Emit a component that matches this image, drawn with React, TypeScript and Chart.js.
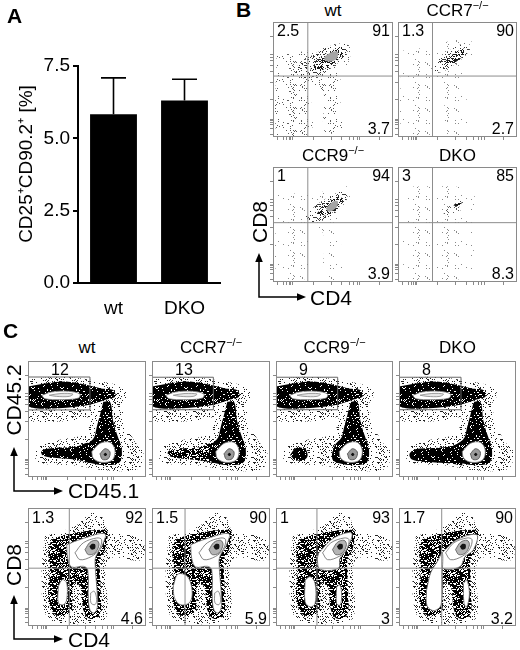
import React, { useEffect, useRef } from "react";
import { Chart, registerables } from "chart.js";
Chart.register(...registerables);

const FONT = '"Liberation Sans", Arial, Helvetica, sans-serif';

// ---------------- Panel A data ----------------
const aCategories = ["wt", "DKO"];
const aMeans = [5.83, 6.31];
const aErrUp = [1.26, 0.73];
const aYTicks = [0, 2.5, 5, 7.5];
const aYTitle = "CD25\u207ACD90.2\u207A [%]";

// ---------------- Panel B data (CD8 vs CD4, values in % of axis) ----------------
const bTitleMain = ["wt", "CCR7", "CCR9", "DKO"];
const bTitleSup = ["", "\u2212/\u2212", "\u2212/\u2212", ""];
const bNumTL = ["2.5", "1.3", "1", "3"];
const bNumTR = ["91", "90", "94", "85"];
const bNumBR = ["3.7", "2.7", "3.9", "8.3"];
const bQuadX = [29, 29, 29, 29];
const bQuadY = [53, 53, 51.6, 51.6];

const bWtSparse = [[3, 71], [22, 74], [39, 77], [53, 81], [63, 80], [64, 68], [57, 55], [56, 34], [57, 6], [43, 5], [42, 39], [32, 44], [31, 3], [3, 2]];
const bWtMid = [[17, 58], [25, 66], [36, 73], [50, 80], [61, 81], [62, 74], [56, 66], [46, 58], [36, 53], [25, 51]];
const bWtDense = [[31, 59], [39, 68], [49, 75], [57, 78], [59, 74], [53, 66], [45, 60], [36, 57]];
const bWtCore = [[43, 70], [49, 74], [54, 74], [53, 68], [47.5, 65.5], [43, 67]];

const bCcr7Sparse = [[3, 75], [24, 78], [46, 84], [61, 84], [63, 72], [56, 61], [58, 3], [41, 3], [38, 46], [30, 49], [29, 3], [3, 3]];
const bCcr7Mid = [[27, 58], [35, 68], [46, 77], [58, 82], [61, 78], [56, 70], [46, 62], [35, 56]];
const bCcr7Dense = [[38, 64], [46, 72], [55, 77], [57, 74], [51, 67], [42, 62]];

const bCcr9Sparse = [[3, 77], [25, 77], [39, 78], [62, 83], [64, 71], [56, 56], [57, 4], [43, 4], [42, 42], [31, 45], [29, 4], [3, 4]];
const bCcr9Mid = [[26, 56], [36, 67], [47, 74], [60, 80], [62, 74], [56, 64], [44, 55], [33, 52]];
const bCcr9Dense = [[36, 59], [44, 68], [54, 74], [58, 72], [54, 64], [44, 58]];
const bCcr9Core = [[44, 64], [50, 70], [54, 70], [53, 65], [47, 61]];

const bDkoSparse = [[7, 83], [46, 83], [63, 80], [63, 59], [58, 4], [7, 4]];
const bDkoMid = [[38, 59], [45, 68], [53, 72], [56, 68], [51, 61], [42, 58]];
const bDkoDense = [[46.5, 66.7], [50.7, 70.1], [53.5, 68.9], [50.7, 65.2]];

// ---------------- Panel C data ----------------
const cTitleMain = ["wt", "CCR7", "CCR9", "DKO"];
const cTitleSup = ["", "\u2212/\u2212", "\u2212/\u2212", ""];
const cGateNum = ["12", "13", "9", "8"];
const cGateX = [52.5, 52, 52.7, 53];
const cGateTop = [86.2, 86, 86, 86];
const cGateBottom = [57.8, 58, 58, 58];
const cNumTL = ["1.3", "1.5", "1", "1.7"];
const cNumTR = ["92", "90", "93", "90"];
const cNumBR = ["4.6", "5.9", "3", "3.2"];
const cQuadX = [35, 28, 35, 36.5];
const cQuadY = [49, 49, 49, 49];

// top row: CD45.2 vs CD45.1
const cTopHalo = [[0, 84], [26, 86.5], [54, 83.6], [82, 76.4], [82, 66.4], [68, 59], [48, 50.6], [20, 47.7], [0, 50.6]];
const cTopBand = [[0, 78], [14, 80.7], [34, 82.2], [50, 79.3], [62, 76.4], [72, 75], [74, 69.3], [65, 66.4], [51, 62], [26, 59.2], [6, 59.2], [0, 62]];
const cTopBandCore = [[11.6, 70.4], [20, 73.3], [34, 73.9], [44, 71.6], [42.7, 68], [28.5, 66.7], [14.4, 67.5]];
const cTopBandInner = [[18, 70.5], [28, 72], [38, 71.5], [35, 69.5], [24, 69.5]];
const cTopLowHalo = [[55.6, 70.4], [76.6, 73.3], [82, 47.4], [90.7, 30.2], [97.7, 21.6], [93.5, 7.2], [68, 5.7], [39.8, 10], [8.8, 13], [6, 24.4], [25.7, 31.6], [48.3, 37.4], [54, 53.2]];
const cTopLowMain = [[63.8, 64.9], [69.5, 64.9], [72.3, 47.7], [76.6, 33.3], [79.4, 24.7], [78, 13.2], [68, 10.3], [54, 11.8], [48, 16], [50, 27], [56, 34], [58, 42], [61, 53.4]];
const cTopLowCore = [[54, 21.8], [61, 29], [69.5, 29.9], [73.7, 23.3], [71.5, 14.7], [62.4, 12.6], [55.4, 16]];
const cTopLowInner = [[61, 20], [65.3, 24.4], [69.5, 21.6], [68, 15.8], [63, 15.2]];
const cTopLowCenter = [[64, 19.5], [65.5, 21], [67, 19.5], [65.5, 18]];
const cWtTopTail = [[52, 12], [40, 15], [22, 16.5], [12, 19], [12, 23], [22, 25], [40, 26], [52, 29]];
const cCcr7TopTail = [[52, 12], [40, 14.5], [24, 16], [14, 18.5], [14, 22.5], [24, 24.5], [40, 25.5], [52, 29]];
const cCcr9TopBlob = [[12, 19], [16, 15], [23, 14], [27, 18], [25, 24], [17, 25]];
const cDkoTopTail = [[54, 10], [40, 12], [22, 13], [11, 15], [9, 20], [14, 24], [30, 25], [46, 27], [56, 31]];

// bottom row: CD8 vs CD4
const cBotHalo = [[14.4, 76], [39.8, 84.7], [54, 95.8], [62.4, 93], [68, 81.6], [96.3, 73.2], [96.3, 56.2], [68, 56.2], [66.7, 8.2], [54, 2.5], [25.7, 2.5], [14.4, 11], [11.6, 47.5]];
const cBotDense = [[20, 73.2], [31.4, 77.4], [48.3, 80.2], [63.8, 81.6], [67.5, 79.4], [65.3, 64.7], [61, 56.2], [61.9, 13.8], [58.2, 6.8], [51.1, 6.8], [46.9, 13.8], [44.1, 33.6], [38.4, 36.4], [37, 13.8], [29.9, 8.2], [21.5, 11], [17.2, 25.1], [18.6, 47.7], [17.2, 64.7]];
const cBotWhiteJoined = [[32.8, 68.9], [45.2, 73.7], [65, 78.2], [62.9, 68.1], [58.2, 60.5], [56.8, 54.8], [59, 22.3], [58.2, 13.8], [55.4, 11], [52.5, 13.8], [51.1, 22.3], [50.6, 47.7], [46.9, 50.6], [37, 50], [33.6, 57.6]];
const cBotRing1 = [[39.8, 62], [46.9, 70.5], [58.2, 74.6], [62.4, 73.2], [60.2, 64.7], [53.9, 59], [44.1, 56.2]];
const cBotRing2 = [[48.3, 64.7], [52.5, 70.9], [58.2, 72.6], [60.2, 68.9], [56.8, 61.9], [51.1, 60.5]];
const cBotCore = [[52, 67.3], [54.3, 69.6], [56.8, 69.2], [56.8, 65.7], [53.8, 64.8]];
const cWtBotDn = [[25.7, 33.6], [29.1, 39.3], [32.8, 36.4], [32.8, 22.3], [30.2, 18.1], [25.7, 19.5]];
const cWtBotCd4 = [[53.1, 28], [56.2, 29.4], [58.2, 22.3], [56.8, 18.1], [53.4, 19.5]];
const cCcr7BotDn = [[18, 34], [22, 44], [30, 42], [34, 30], [32, 20], [24, 18], [19, 24]];
const cCcr9BotWhite = [[36.3, 61.6], [49, 74.4], [64.6, 78.7], [60.3, 64.5], [54.7, 57.4], [53.3, 48.9], [37.7, 48], [35.4, 56]];
const cCcr9BotDn = [[24.9, 38.9], [29.2, 41.8], [33.4, 36.1], [33.4, 19], [29.2, 16.2], [24.9, 20.5]];
const cCcr9BotCd4 = [[51.8, 33.2], [54.7, 34.7], [56.1, 24.7], [54.7, 17.6], [51.8, 19]];
const cDkoBotWhite = [[36.4, 61.6], [49.3, 73], [66.5, 77.3], [63.6, 64.5], [56.4, 58.8], [52.1, 50.3], [37.8, 48.9]];
const cDkoBotDn = [[23.5, 30], [27, 45], [33, 55], [37, 62], [37, 45], [36, 18], [30, 13], [24, 17]];
const cDkoBotCd4 = [[55, 36], [57.9, 38.9], [60.2, 27.6], [57.9, 16.2], [55.6, 19]];

const flowTicks = [3, 8, 11, 13, 14.5, 15.5, 33, 48, 57, 63, 67, 70, 72, 88];

// ---------------- styles ----------------
const PATTERNS: Record<string, [number, string]> = {
  p1: [0.035, "#8a8a8a"],
  p2: [0.085, "#5c5c5c"],
  p3: [0.22, "#383838"],
  p4: [0.45, "#1a1a1a"],
  p45: [0.72, "#000"],
  p5: [0.93, "#000"],
  h1: [0.15, "#222"],
};

function makePattern(ctx: CanvasRenderingContext2D, key: string) {
  const [d, col] = PATTERNS[key];
  const c = document.createElement("canvas");
  c.width = 29;
  c.height = 23;
  const g = c.getContext("2d")!;
  g.fillStyle = col;
  for (let y = 0; y < 23; y++) {
    for (let x = 0; x < 29; x++) {
      let h = Math.imul(x + 1, 374761393) ^ Math.imul(y + 1, 668265263);
      h = Math.imul(h ^ (h >>> 13), 1274126177);
      h = (h ^ (h >>> 16)) >>> 0;
      if ((h % 1000) / 1000 < d) g.fillRect(x, y, 1, 1);
    }
  }
  return ctx.createPattern(c, "repeat")!;
}

type Layer = { pts: number[][]; fill: string; stroke?: string; lw?: number };
type Box = { x: number; y: number; w: number; h: number };

const framePlugin = {
  id: "frame",
  afterDraw(chart: any) {
    const { ctx, chartArea: a, scales } = chart;
    ctx.save();
    ctx.strokeStyle = "#8a8a8a";
    ctx.lineWidth = 1;
    ctx.strokeRect(a.left + 0.5, a.top + 0.5, a.right - a.left - 1, a.bottom - a.top - 1);
    ctx.beginPath();
    for (const v of flowTicks) {
      const px = Math.round(scales.x.getPixelForValue(v)) + 0.5;
      ctx.moveTo(px, a.bottom);
      ctx.lineTo(px, a.bottom + 3);
      const py = Math.round(scales.y.getPixelForValue(v)) + 0.5;
      ctx.moveTo(a.left, py);
      ctx.lineTo(a.left - 3, py);
    }
    ctx.stroke();
    ctx.restore();
  },
};

function FlowPlot(p: { box: Box; layers: Layer[]; vq?: number; hq?: number; gate?: number[] }) {
  const ref = useRef<HTMLCanvasElement>(null);
  useEffect(() => {
    const cv = ref.current!;
    const ctx = cv.getContext("2d")!;
    const n = p.layers.length;
    const ds: any[] = p.layers.map((L, i) => ({
      data: [...L.pts, L.pts[0]].map(([x, y]) => ({ x, y })),
      fill: "shape",
      backgroundColor: PATTERNS[L.fill] ? makePattern(ctx, L.fill) : L.fill,
      borderColor: L.stroke || "rgba(0,0,0,0)",
      borderWidth: L.stroke ? L.lw ?? 0.8 : 1,
      tension: 0.35,
      pointRadius: 0,
      order: 100 + n - i,
    }));
    const lineDs = (pts: number[][], color: string) => ({
      data: pts.map(([x, y]) => ({ x, y })),
      fill: false,
      borderColor: color,
      borderWidth: 1,
      tension: 0,
      pointRadius: 0,
      order: 1,
    });
    if (p.vq != null) ds.push(lineDs([[p.vq, 0], [p.vq, 100]], "#8d8d8d"));
    if (p.hq != null) ds.push(lineDs([[0, p.hq], [100, p.hq]], "#8d8d8d"));
    if (p.gate) {
      const [gx, gt, gb] = p.gate;
      ds.push(lineDs([[0.4, gb], [gx, gb], [gx, gt], [0.4, gt], [0.4, gb]], "#666"));
    }
    const chart = new Chart(cv, {
      type: "line",
      data: { datasets: ds },
      options: {
        animation: false,
        responsive: true,
        maintainAspectRatio: false,
        events: [],
        layout: { padding: { left: 4, top: 1, right: 1, bottom: 4 } },
        scales: {
          x: { type: "linear", min: 0, max: 100, display: false },
          y: { type: "linear", min: 0, max: 100, display: false },
        },
        plugins: { legend: { display: false }, tooltip: { enabled: false } },
      },
      plugins: [framePlugin],
    } as any);
    return () => chart.destroy();
  }, []);
  const b = p.box;
  return (
    <div style={{ position: "absolute", left: b.x - 4, top: b.y - 1, width: b.w + 5, height: b.h + 5 }}>
      <canvas ref={ref} />
    </div>
  );
}

function Txt(p: { x: number; y: number; size: number; children: any; align?: "left" | "right" | "center"; bold?: boolean; rot?: boolean }) {
  const tx = p.rot ? "translate(-50%,-50%) rotate(-90deg)" : p.align === "right" ? "translateX(-100%)" : p.align === "center" ? "translateX(-50%)" : "none";
  return (
    <div
      style={{
        position: "absolute",
        left: p.x,
        top: p.y,
        fontFamily: FONT,
        fontSize: p.size,
        lineHeight: `${p.size}px`,
        fontWeight: p.bold ? 700 : 400,
        whiteSpace: "nowrap",
        color: "#000",
        transform: tx,
      }}
    >
      {p.children}
    </div>
  );
}

function Title(p: { main: string; sup: string; cx: number; y: number }) {
  return (
    <Txt x={p.cx} y={p.y} size={17} align="center">
      {p.main}
      {p.sup ? <span style={{ fontSize: 11, position: "relative", top: -7 }}>{p.sup}</span> : null}
    </Txt>
  );
}

function BarPanel() {
  const ref = useRef<HTMLCanvasElement>(null);
  useEffect(() => {
    const errPlugin = {
      id: "err",
      afterDatasetsDraw(chart: any) {
        const { ctx, scales } = chart;
        const meta = chart.getDatasetMeta(0);
        ctx.save();
        ctx.strokeStyle = "#000";
        ctx.lineWidth = 1.6;
        meta.data.forEach((bar: any, i: number) => {
          const x = bar.x;
          const y0 = scales.y.getPixelForValue(aMeans[i]);
          const y1 = scales.y.getPixelForValue(aMeans[i] + aErrUp[i]);
          ctx.beginPath();
          ctx.moveTo(x, y0);
          ctx.lineTo(x, y1);
          ctx.moveTo(x - 12.5, y1);
          ctx.lineTo(x + 12.5, y1);
          ctx.stroke();
        });
        ctx.restore();
      },
    };
    const chart = new Chart(ref.current!, {
      type: "bar",
      data: {
        labels: aCategories,
        datasets: [{ data: aMeans, backgroundColor: "#000", barPercentage: 0.66, categoryPercentage: 1 }],
      },
      options: {
        animation: false,
        responsive: true,
        maintainAspectRatio: false,
        events: [],
        layout: { padding: { top: 66, right: 10, left: 0, bottom: 0 } },
        scales: {
          x: {
            grid: { display: false },
            border: { display: true, color: "#000", width: 2 },
            ticks: { color: "#000", font: { family: FONT, size: 19 }, padding: 6 },
            afterFit: (s: any) => {
              s.height = 37;
            },
          },
          y: {
            min: 0,
            max: 7.5,
            afterBuildTicks: (s: any) => {
              s.ticks = aYTicks.map((v) => ({ value: v }));
            },
            ticks: { color: "#000", font: { family: FONT, size: 19 }, padding: 3, callback: (v: any) => Number(v).toFixed(1) },
            grid: { drawOnChartArea: false, tickLength: 5, color: "#000", lineWidth: 2 },
            border: { color: "#000", width: 2 },
            title: { display: false },
            afterFit: (s: any) => {
              s.width = 78;
            },
          },
        },
        plugins: { legend: { display: false }, tooltip: { enabled: false } },
      },
      plugins: [errPlugin],
    } as any);
    return () => chart.destroy();
  }, []);
  return (
    <div style={{ position: "absolute", left: 0, top: 0, width: 230, height: 320 }}>
      <canvas ref={ref} />
    </div>
  );
}

const bBoxes: Box[] = [
  { x: 273, y: 22, w: 120, h: 115 },
  { x: 398, y: 22, w: 119, h: 115 },
  { x: 273, y: 167, w: 120, h: 115 },
  { x: 398, y: 167, w: 119, h: 115 },
];
const cTopBoxes: Box[] = [
  { x: 28, y: 361, w: 118, h: 116 },
  { x: 152, y: 361, w: 118, h: 116 },
  { x: 276, y: 361, w: 117, h: 116 },
  { x: 399, y: 361, w: 117, h: 116 },
];
const cBotBoxes: Box[] = cTopBoxes.map((b) => ({ x: b.x, y: 508, w: b.w, h: 118 }));

const bLayers: Layer[][] = [
  [
    { pts: bWtSparse, fill: "p2" },
    { pts: bWtMid, fill: "p3" },
    { pts: bWtDense, fill: "p4" },
    { pts: bWtCore, fill: "#a4a4a4" },
  ],
  [
    { pts: bCcr7Sparse, fill: "p1" },
    { pts: bCcr7Mid, fill: "p3" },
    { pts: bCcr7Dense, fill: "p4" },
  ],
  [
    { pts: bCcr9Sparse, fill: "p1" },
    { pts: bCcr9Mid, fill: "p3" },
    { pts: bCcr9Dense, fill: "p4" },
    { pts: bCcr9Core, fill: "#a4a4a4" },
  ],
  [
    { pts: bDkoSparse, fill: "p1" },
    { pts: bDkoMid, fill: "p2" },
    { pts: bDkoDense, fill: "p4" },
  ],
];

const topCommonBack: Layer[] = [
  { pts: cTopHalo, fill: "h1" },
  { pts: cTopLowHalo, fill: "h1" },
  { pts: cTopBand, fill: "p5" },
  { pts: cTopLowMain, fill: "p5" },
];
const topCommonFront: Layer[] = [
  { pts: cTopBandCore, fill: "#fff", stroke: "#777" },
  { pts: cTopBandInner, fill: "#e6e6e6", stroke: "#888" },
  { pts: cTopLowCore, fill: "#fff", stroke: "#777" },
  { pts: cTopLowInner, fill: "#9a9a9a", stroke: "#444" },
  { pts: cTopLowCenter, fill: "#111" },
];
const cTopLayers: Layer[][] = [
  [...topCommonBack, { pts: cWtTopTail, fill: "p5" }, ...topCommonFront],
  [...topCommonBack, { pts: cCcr7TopTail, fill: "p45" }, ...topCommonFront],
  [...topCommonBack, { pts: cCcr9TopBlob, fill: "p5" }, ...topCommonFront],
  [...topCommonBack, { pts: cDkoTopTail, fill: "p5" }, ...topCommonFront],
];

const botBack: Layer[] = [
  { pts: cBotHalo, fill: "h1" },
  { pts: cBotDense, fill: "p45" },
];
const botFront: Layer[] = [
  { pts: cBotRing1, fill: "#fff", stroke: "#666" },
  { pts: cBotRing2, fill: "#b4b4b4", stroke: "#555" },
  { pts: cBotCore, fill: "#151515" },
];
const cBotLayers: Layer[][] = [
  [...botBack, { pts: cBotWhiteJoined, fill: "#fff", stroke: "#666" }, { pts: cWtBotDn, fill: "#fff", stroke: "#666" }, { pts: cWtBotCd4, fill: "#fff", stroke: "#777" }, ...botFront],
  [...botBack, { pts: cBotWhiteJoined, fill: "#fff", stroke: "#666" }, { pts: cCcr7BotDn, fill: "#fff", stroke: "#666" }, { pts: cWtBotCd4, fill: "#fff", stroke: "#777" }, ...botFront],
  [...botBack, { pts: cCcr9BotWhite, fill: "#fff", stroke: "#666" }, { pts: cCcr9BotDn, fill: "#fff", stroke: "#666" }, { pts: cCcr9BotCd4, fill: "#fff", stroke: "#666" }, ...botFront],
  [...botBack, { pts: cDkoBotWhite, fill: "#fff", stroke: "#666" }, { pts: cDkoBotDn, fill: "#fff", stroke: "#666" }, { pts: cDkoBotCd4, fill: "#fff", stroke: "#666" }, ...botFront],
];

function Arrows() {
  const arrow = (cx: number, cy: number, topY: number, rightX: number, key: string) => (
    <g key={key}>
      <path d={`M ${cx} ${topY + 7} V ${cy} H ${rightX - 7}`} stroke="#000" strokeWidth={1.5} fill="none" />
      <polygon points={`${cx},${topY} ${cx - 3.8},${topY + 9} ${cx + 3.8},${topY + 9}`} fill="#000" />
      <polygon points={`${rightX},${cy} ${rightX - 9},${cy - 3.8} ${rightX - 9},${cy + 3.8}`} fill="#000" />
    </g>
  );
  return (
    <svg width={520} height={650} style={{ position: "absolute", left: 0, top: 0, pointerEvents: "none" }}>
      {arrow(259, 297, 253, 306, "b")}
      {arrow(14, 491, 447, 63, "c1")}
      {arrow(14, 639, 595, 63, "c2")}
    </svg>
  );
}

export default function App() {
  return (
    <div style={{ position: "absolute", left: 0, top: 0, width: 520, height: 650, background: "#fff", overflow: "hidden" }}>
      <BarPanel />
      <Txt x={25} y={164} size={19} rot>{aYTitle}</Txt>
      <Txt x={7} y={5} size={21} bold>A</Txt>
      <Txt x={236} y={-1} size={21} bold>B</Txt>
      <Txt x={3} y={320} size={21} bold>C</Txt>

      {bBoxes.map((b, i) => (
        <React.Fragment key={"b" + i}>
          <FlowPlot box={b} layers={bLayers[i]} vq={bQuadX[i]} hq={bQuadY[i]} />
          <Title main={bTitleMain[i]} sup={bTitleSup[i]} cx={b.x + b.w / 2} y={b.y - 20} />
          <Txt x={b.x + 4} y={b.y + 1} size={16}>{bNumTL[i]}</Txt>
          <Txt x={b.x + b.w - 3} y={b.y + 1} size={16} align="right">{bNumTR[i]}</Txt>
          <Txt x={b.x + b.w - 3} y={b.y + b.h - 16} size={16} align="right">{bNumBR[i]}</Txt>
        </React.Fragment>
      ))}

      {cTopBoxes.map((b, i) => (
        <React.Fragment key={"ct" + i}>
          <FlowPlot box={b} layers={cTopLayers[i]} gate={[cGateX[i], cGateTop[i], cGateBottom[i]]} />
          <Title main={cTitleMain[i]} sup={cTitleSup[i]} cx={b.x + b.w / 2} y={b.y - 22} />
          <Txt x={b.x + 23} y={b.y + 1} size={16}>{cGateNum[i]}</Txt>
        </React.Fragment>
      ))}

      {cBotBoxes.map((b, i) => (
        <React.Fragment key={"cb" + i}>
          <FlowPlot box={b} layers={cBotLayers[i]} vq={cQuadX[i]} hq={cQuadY[i]} />
          <Txt x={b.x + 4} y={b.y + 2} size={16}>{cNumTL[i]}</Txt>
          <Txt x={b.x + b.w - 3} y={b.y + 2} size={16} align="right">{cNumTR[i]}</Txt>
          <Txt x={b.x + b.w - 3} y={b.y + b.h - 15} size={16} align="right">{cNumBR[i]}</Txt>
        </React.Fragment>
      ))}

      <Arrows />
      <Txt x={259} y={222} size={21} rot>CD8</Txt>
      <Txt x={310} y={287} size={21}>CD4</Txt>
      <Txt x={13} y={400} size={21} rot>CD45.2</Txt>
      <Txt x={68} y={480} size={21}>CD45.1</Txt>
      <Txt x={13} y={565} size={21} rot>CD8</Txt>
      <Txt x={68} y={629} size={21}>CD4</Txt>
    </div>
  );
}
